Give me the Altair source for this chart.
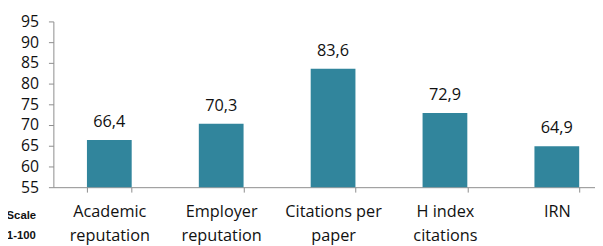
import altair as alt
import pandas as pd

categories = ["Academic|reputation", "Employer|reputation", "Citations per|paper", "H index|citations", "IRN"]
values = [66.4, 70.3, 83.6, 72.9, 64.9]
value_labels = ["66,4", "70,3", "83,6", "72,9", "64,9"]
y_ticks = [55, 60, 65, 70, 75, 80, 85, 90, 95]

df = pd.DataFrame({"cat": categories, "value": values, "label": value_labels})

FONT = "Open Sans"
AXIS_COLOR = "#8c8c8c"

x_scale = alt.Scale(range=[0, 567], paddingInner=0.6, paddingOuter=0.3)
y_scale = alt.Scale(domain=[55, 95], nice=False, zero=False)

x_enc = alt.X(
    "cat:N",
    sort=categories,
    scale=x_scale,
    axis=alt.Axis(
        title=None,
        labelAngle=0,
        labelExpr="split(datum.label, '|')",
        labelFont=FONT,
        labelFontSize=16.5,
        labelColor="#111111",
        labelLineHeight=24,
        labelPadding=12,
        labelBaseline="top",
        labelOverlap=False,
        tickBand="extent",
        tickSize=5,
        tickColor=AXIS_COLOR,
        domainColor=AXIS_COLOR,
        grid=False,
    ),
)

y_enc = alt.Y(
    "value:Q",
    scale=y_scale,
    axis=alt.Axis(
        values=y_ticks,
        labelOverlap=False,
        labelBound=False,
        title=["Scale", "1-100"],
        titleAngle=0,
        titleX=-33,
        titleY=200,
        titleAlign="center",
        titleBaseline="alphabetic",
        titleFont="Liberation Sans",
        titleFontSize=11.5,
        titleFontWeight="bold",
        titleLineHeight=20,
        titleColor="#111111",
        labelFont=FONT,
        labelFontSize=16,
        labelColor="#111111",
        labelPadding=10,
        tickSize=5,
        tickColor=AXIS_COLOR,
        domainColor=AXIS_COLOR,
        grid=False,
    ),
)

bars = alt.Chart(df).mark_bar(color="#31859C", clip=True).encode(x=x_enc, y=y_enc)
texts = alt.Chart(df).mark_text(
    font=FONT, fontSize=16.5, color="#111111", baseline="bottom", dy=-10
).encode(x=x_enc, y=y_enc, text="label:N")

chart = (
    alt.layer(bars, texts)
    .properties(
        width=549,
        height=168,
        autosize=alt.AutoSizeParams(type="none"),
        padding={"left": 46, "top": 12, "right": 0, "bottom": 58},
    )
    .configure(background="white")
    .configure_view(stroke=None)
    .configure_axis(labelOverlap=False)
)

chart.save("out.html", embed_options={"renderer": "svg", "actions": False})
